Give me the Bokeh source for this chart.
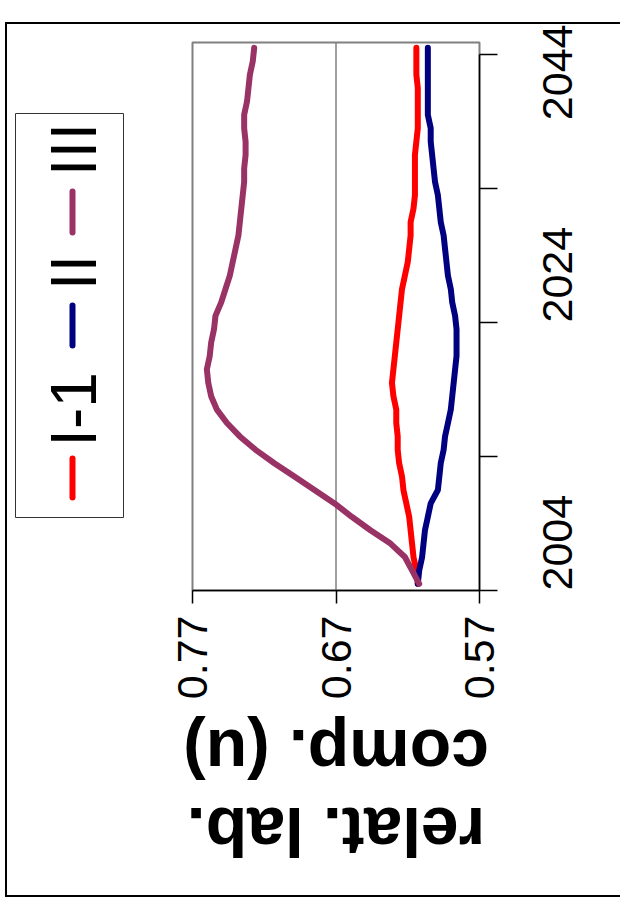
from math import pi
from bokeh.plotting import figure
from bokeh.layouts import row, column
from bokeh.models import Range1d, FixedTicker, Span
from bokeh.core.properties import value
from bokeh.embed import file_html
from bokeh.resources import INLINE

# ---- data ----
years = [2004.5, 2005.5, 2006.5, 2007.5, 2008.5, 2009.5, 2010.5, 2011.5, 2012.5, 2013.5,
         2014.5, 2015.5, 2016.5, 2017.5, 2018.5, 2019.5, 2020.5, 2021.5, 2022.5, 2023.5,
         2024.5, 2025.5, 2026.5, 2027.5, 2028.5, 2029.5, 2030.5, 2031.5, 2032.5, 2033.5,
         2034.5, 2035.5, 2036.5, 2037.5, 2038.5, 2039.5, 2040.5, 2041.5, 2042.5, 2043.5,
         2044.5]
series_I1 = [0.613, 0.614, 0.616, 0.617, 0.618, 0.619, 0.621, 0.623, 0.624, 0.626,
             0.627, 0.627, 0.628, 0.628, 0.630, 0.631, 0.630, 0.629, 0.628, 0.627,
             0.626, 0.625, 0.624, 0.622, 0.620, 0.619, 0.618, 0.618, 0.616, 0.615,
             0.615, 0.615, 0.615, 0.614, 0.613, 0.613, 0.613, 0.613, 0.614, 0.614,
             0.614]
series_II = [0.613, 0.612, 0.610, 0.609, 0.608, 0.606, 0.604, 0.599, 0.598, 0.597,
             0.595, 0.594, 0.592, 0.590, 0.589, 0.588, 0.587, 0.586, 0.586, 0.586,
             0.587, 0.589, 0.590, 0.592, 0.593, 0.594, 0.595, 0.597, 0.598, 0.599,
             0.601, 0.602, 0.603, 0.604, 0.604, 0.606, 0.606, 0.606, 0.606, 0.606,
             0.606]
series_III = [0.612, 0.617, 0.622, 0.632, 0.646, 0.659, 0.671, 0.685, 0.699, 0.713,
              0.726, 0.737, 0.746, 0.753, 0.757, 0.759, 0.760, 0.758, 0.757, 0.755,
              0.754, 0.750, 0.747, 0.744, 0.742, 0.740, 0.738, 0.737, 0.736, 0.735,
              0.734, 0.734, 0.733, 0.733, 0.734, 0.734, 0.732, 0.731, 0.730, 0.728,
              0.727]
series_names = ["I-1", "II", "III"]
series_colors = ["#FF0000", "#000080", "#993366"]
value_ticks = [0.57, 0.67, 0.77]
reference_value = 0.67
year_ticks = [2004, 2014, 2024, 2034, 2044]
year_label_overrides = {2014: "", 2034: ""}
title_lines = ["relat. lab.", "comp. (u)"]

FONT = "Liberation Sans"

# ---- layout (page pixels) ----
OX, OY = 7, 24            # content origin inside the outer border
CH = 871                  # content height
LEG_W = 163               # legend column width
MAIN_W = 613 - LEG_W      # main plot width
MX = OX + LEG_W           # page column where the main plot starts
FL, FR, FT, FB = 192, 479, 42, 590   # plot frame edges on the page
P_H = 678                            # main plot height (rest: title strip)
T_H = CH - P_H
BL = FL - MX                         # left border of main plot
BR = MAIN_W - (FR - MX)              # right border of main plot

# ---------------- legend column ----------------
leg = figure(width=LEG_W, height=CH, x_range=Range1d(0, LEG_W), y_range=Range1d(0, FB - FT),
             x_axis_location=None, y_axis_location=None,
             min_border_left=0, min_border_right=0,
             min_border_top=FT - OY, min_border_bottom=CH - (FB - OY),
             output_backend="svg", toolbar_location=None)
leg.outline_line_color = None
leg.background_fill_color = "white"
leg.border_fill_color = "white"
leg.xgrid.visible = False
leg.ygrid.visible = False


def lx(px):
    return px - OX


def ly(py):
    return FB - py


leg.quad(left=[lx(15)], right=[lx(123)], top=[ly(113)], bottom=[ly(517)],
         fill_color=None, line_color="#333333", line_width=1)
leg_seg = [(458, 497), (305, 345), (191, 232)]
leg_txt_y = [409, 272, 149]
for name, col, (t, b), ty_ in zip(series_names, series_colors, leg_seg, leg_txt_y):
    leg.segment(x0=[lx(72)], y0=[ly(t)], x1=[lx(72)], y1=[ly(b)],
                line_color=col, line_width=6, line_cap="round")
    leg.text(x=[lx(73)], y=[ly(ty_)], text=[name], angle=pi / 2,
             text_align="center", text_baseline="middle",
             text_font=value(FONT), text_font_size="64px", text_color="black")

# ---------------- main plot ----------------
p = figure(width=MAIN_W, height=P_H,
           x_range=Range1d(0.77, 0.57), y_range=Range1d(2004.0, 2044.9),
           y_axis_location="right", x_axis_location="below",
           output_backend="svg", toolbar_location=None,
           min_border_left=BL, min_border_right=BR,
           min_border_top=FT - OY, min_border_bottom=P_H - (FB - OY))
p.background_fill_color = "white"
p.border_fill_color = "white"
p.outline_line_color = "#808080"
p.outline_line_width = 2
p.xgrid.visible = False
p.ygrid.visible = False

xa = p.xaxis[0]
xa.ticker = FixedTicker(ticks=value_ticks)
xa.major_tick_out = 13
xa.major_tick_in = 0
xa.minor_tick_out = 0
xa.axis_line_color = "black"
xa.axis_line_width = 1.5
xa.major_tick_line_width = 1.5
xa.major_label_orientation = pi / 2
xa.major_label_standoff = 12
xa.major_label_text_font = FONT
xa.major_label_text_font_size = "43px"
xa.major_label_text_color = "black"

ya = p.yaxis[0]
ya.ticker = FixedTicker(ticks=year_ticks)
ya.major_label_overrides = year_label_overrides
ya.bounds = (2004, 2044)
ya.major_tick_out = 18
ya.major_tick_in = 0
ya.minor_tick_out = 0
ya.axis_line_color = "black"
ya.axis_line_width = 1.5
ya.major_tick_line_width = 1.5
ya.major_label_orientation = pi / 2
ya.major_label_standoff = 60
ya.major_label_text_font = FONT
ya.major_label_text_font_size = "43px"
ya.major_label_text_color = "black"

p.add_layout(Span(location=reference_value, dimension="height",
                  line_color="#808080", line_width=1.5, level="underlay"))

for vals, col in zip([series_I1, series_II, series_III], series_colors):
    p.line(vals, years, line_color=col, line_width=6,
           line_cap="round", line_join="round")

# ---------------- upside-down axis title strip ----------------
T_TOP = OY + P_H                     # page row where the strip starts
TL, TR = 172, 499                    # strip frame, centred on the plot frame
tt = figure(width=MAIN_W, height=T_H, x_range=Range1d(TL, TR), y_range=Range1d(0, T_H),
            x_axis_location=None, y_axis_location=None,
            min_border_left=TL - MX, min_border_right=MAIN_W - (TR - MX),
            min_border_top=0, min_border_bottom=0,
            output_backend="svg", toolbar_location=None)
tt.outline_line_color = None
tt.background_fill_color = "white"
tt.border_fill_color = "white"
tt.xgrid.visible = False
tt.ygrid.visible = False


def ty(py):
    return T_TOP + T_H - py


for txt, base in zip(title_lines, [831, 753]):
    tt.text(x=[(FL + FR) / 2], y=[ty(base)], text=[txt], angle=pi,
            text_align="center", text_baseline="alphabetic",
            text_font=value(FONT), text_font_size="68px", text_font_style="bold",
            text_color="black")

layout = row(leg, column(p, row(tt)), margin=(OY - 2, 0, 0, OX - 2),
             styles={"border-left": "2px solid black",
                     "border-top": "2px solid black",
                     "border-bottom": "2px solid black",
                     "border-right": "none"})

open("out.html", "w").write(file_html(layout, INLINE))
